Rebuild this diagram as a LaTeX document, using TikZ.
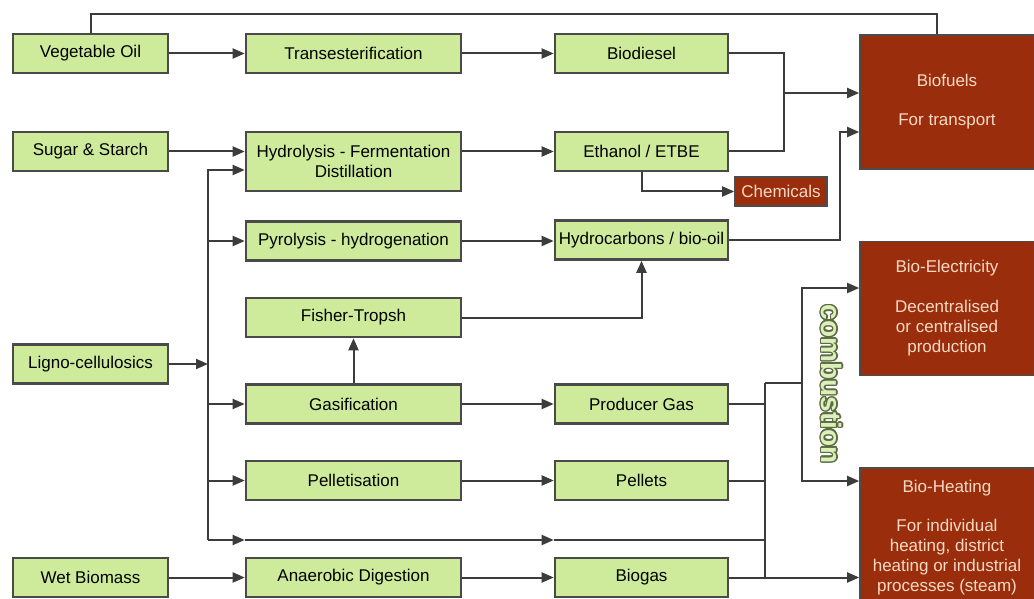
\documentclass[tikz,border=0pt]{standalone}
\usepackage{fontspec}
\setmainfont{Liberation Sans}
\usepackage[copies]{contour}
\contourlength{0.7pt}
\usepackage{tikz}
\usetikzlibrary{arrows.meta}
\definecolor{leaf}{HTML}{CDEB9B}
\definecolor{edge}{HTML}{4A4A4A}
\definecolor{rust}{HTML}{9A2E0C}
\definecolor{peach}{HTML}{F7D9C4}
\definecolor{cable}{HTML}{3C3C3C}
\definecolor{olive}{HTML}{5E6B45}
\tikzset{
  every picture/.style={font=\fontsize{8.5}{10}\selectfont, line width=1pt},
  box/.style={draw=edge, line width=1.3pt, fill=leaf, align=center, inner sep=0pt, minimum width=#1, minimum height=19.5pt},
  box/.default=77.5pt,
  sink/.style={box=#1, fill=rust, draw=black!70, line width=0.8pt, text=peach, minimum height=67pt},
  sink/.default=87pt,
  arrow/.style={-{Triangle[length=6pt,width=5pt]}, draw=cable},
  link/.style={draw=cable},
}

\begin{document}
\begin{tikzpicture}[x=0.5pt, y=-0.5pt]
  \useasboundingbox (0,0) rectangle (1034,599);
  % feedstocks
  \foreach \name/\y/\label in {veg/53.5/Vegetable Oil, sugar/151.5/Sugar \& Starch, ligno/364/Ligno-cellulosics, wet/577.5/Wet Biomass}
    \node[box] (\name) at (90.5,\y) {\label};
  % conversion routes
  \foreach \name/\y/\label in {trans/53.5/Transesterification, pyro/241/Pyrolysis - hydrogenation, ft/317.5/Fisher-Tropsh, gas/404/Gasification, pell/480.5/Pelletisation, ad/577.5/Anaerobic Digestion}
    \node[box=107.5pt] (\name) at (353.5,\y) {\label};
  \node[box=107.5pt, minimum height=29.5pt] (hyd) at (353.5,161.5) {Hydrolysis - Fermentation\\Distillation};
  % products
  \foreach \name/\y/\label in {bd/53.5/Biodiesel, eth/151.5/{Ethanol / ETBE}, hc/240/{Hydrocarbons / bio-oil}, pg/404/Producer Gas, pel/480.5/Pellets, bg/577.5/Biogas}
    \node[box=86.5pt] (\name) at (641.5,\y) {\label};
  % end uses
  \node[sink] (fuel) at (947,102) {Biofuels\\[9.5pt]For transport};
  \node[sink] (elec) at (947,308.5) {Bio-Electricity\\[10pt]Decentralised\\or centralised\\production};
  \node[sink, minimum height=70pt] (heat) at (947,538) {Bio-Heating\\[9.5pt]For individual\\heating, district\\heating or industrial\\processes (steam)};
  \node[sink=46pt, minimum height=14.5pt] (chem) at (781,191.5) {Chemicals};

  \draw[arrow] (veg) -- (trans);
  \draw[arrow] (trans) -- (bd);
  \draw[arrow] (sugar) -- (sugar -| hyd.west);
  \draw[arrow] (hyd.east |- eth) -- (eth);
  \draw[arrow] (pyro) -- (pyro -| hc.west);
  \draw[arrow] (gas) -- (pg);
  \draw[arrow] (pell) -- (pel);
  \draw[arrow] (wet) -- (ad);
  \draw[arrow] (ad) -- (bg);
  \draw[arrow] (gas) -- (ft);
  \draw[arrow] (ft) -| (hc);
  % ligno-cellulosics bus
  \coordinate (bustop) at (208,170);
  \coordinate (busbot) at (208,540);
  \draw[arrow] (ligno) -- (ligno -| bustop);
  \draw[arrow] (busbot) -- (bustop) -- (bustop -| hyd.west);
  \draw[arrow] (bustop |- pyro) -- (pyro);
  \draw[arrow] (bustop |- gas) -- (gas);
  \draw[arrow] (bustop |- pell) -- (pell);
  \draw[arrow] (busbot) -- (busbot -| ad.west);
  \draw[arrow] (busbot -| ad.west) -- (busbot -| bg.west);
  % heat and power bus
  \coordinate (rbus) at (765,383);
  \draw[link] (busbot -| bg.west) -- (busbot -| rbus);
  \draw[link] (pg) -- (pg -| rbus);
  \draw[link] (pel) -- (pel -| rbus);
  \draw[link] (rbus) -- (rbus |- bg);
  \draw[arrow] (bg) -- (bg -| heat.west);
  \coordinate (cj) at (802,383);
  \coordinate (ce) at (802,288);
  \coordinate (ch) at (802,481);
  \draw[link] (rbus) -- (cj);
  \draw[arrow] (cj) -- (ce) -- (ce -| elec.west);
  \draw[arrow] (cj) -- (ch) -- (ch -| heat.west);
  \node[rotate=-90, font=\bfseries\fontsize{14}{14}\selectfont] (comb) at (831,384) {\contour{olive}{\textcolor{leaf!70!white}{combustion}}};
  % biofuels
  \coordinate (fj) at (784,93);
  \draw[link] (bd) -| (fj) |- (eth);
  \draw[arrow] (fj) -- (fj -| fuel.west);
  \coordinate (hj) at (840,132);
  \draw[arrow] (hc) -| (hj) -- (hj -| fuel.west);
  \draw[arrow] (eth) |- (chem);
  \coordinate (topr) at (937,14);
  \draw[link] (veg) |- (topr) -- (topr |- fuel.north);
\end{tikzpicture}
\end{document}
